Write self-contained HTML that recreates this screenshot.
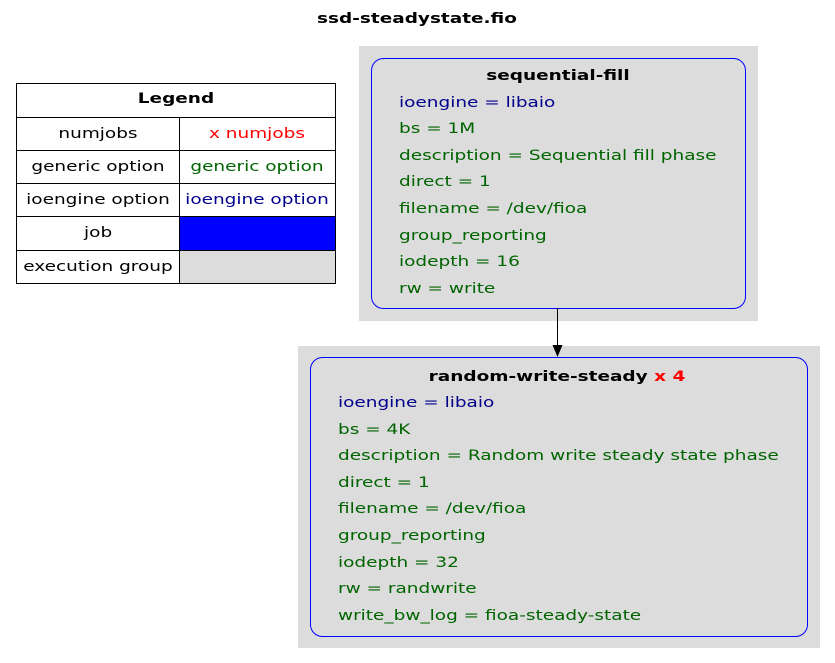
<!DOCTYPE html>
<html><head><meta charset="utf-8"><style>
html,body{margin:0;padding:0;background:#fff;}
svg{display:block;}
text{font-family:"DejaVu Sans","Liberation Sans",sans-serif;font-size:14px;transform-box:fill-box;transform:scaleX(1.32);transform-origin:left center;}
text.c{transform-origin:center center;}
.b{font-weight:bold;}
.n{fill:#00008b;}
.g{fill:#006400;}
</style></head><body>
<svg width="835" height="663" viewBox="0 0 835 663" xmlns="http://www.w3.org/2000/svg">
<text x="417" y="23" text-anchor="middle" class="b c">ssd-steadystate.fio</text>
<!-- legend -->
<g stroke="#000" stroke-width="1" fill="none">
<rect x="16.5" y="83.5" width="319" height="200" fill="#fff"/>
<line x1="16.5" y1="117.5" x2="335.5" y2="117.5"/>
<line x1="16.5" y1="150.5" x2="335.5" y2="150.5"/>
<line x1="16.5" y1="183.5" x2="335.5" y2="183.5"/>
<line x1="16.5" y1="216.5" x2="335.5" y2="216.5"/>
<line x1="16.5" y1="250.5" x2="335.5" y2="250.5"/>
<line x1="179.5" y1="117.5" x2="179.5" y2="283.5"/>
</g>
<rect x="180" y="217" width="155" height="33" fill="#0000ff"/>
<rect x="180" y="251" width="155" height="32" fill="#dcdcdc"/>
<text x="176" y="103" text-anchor="middle" class="b c">Legend</text>
<text x="98" y="138" text-anchor="middle" class="c">numjobs</text>
<text x="257" y="138" text-anchor="middle" class="c" fill="#ff0000">x numjobs</text>
<text x="98" y="171" text-anchor="middle" class="c">generic option</text>
<text x="257" y="171" text-anchor="middle" class="g c">generic option</text>
<text x="98" y="204" text-anchor="middle" class="c">ioengine option</text>
<text x="257" y="204" text-anchor="middle" class="n c">ioengine option</text>
<text x="98" y="237" text-anchor="middle" class="c">job</text>
<text x="98" y="271" text-anchor="middle" class="c">execution group</text>
<!-- cluster 1 -->
<rect x="359" y="46" width="399" height="275" fill="#dcdcdc"/>
<rect x="371.5" y="58.5" width="374" height="250" rx="12" fill="#dcdcdc" stroke="#0000ff"/>
<text x="558" y="80" text-anchor="middle" class="b c">sequential-fill</text>
<text x="399" y="107" class="n">ioengine = libaio</text>
<text x="399" y="133" class="g">bs = 1M</text>
<text x="399" y="160" class="g">description = Sequential fill phase</text>
<text x="399" y="186" class="g">direct = 1</text>
<text x="399" y="213" class="g">filename = /dev/fioa</text>
<text x="399" y="240" class="g">group_reporting</text>
<text x="399" y="266" class="g">iodepth = 16</text>
<text x="399" y="293" class="g">rw = write</text>
<!-- cluster 2 -->
<rect x="298" y="346" width="522" height="302" fill="#dcdcdc"/>
<rect x="310.5" y="357.5" width="497" height="279" rx="12" fill="#dcdcdc" stroke="#0000ff"/>
<text x="557" y="381" text-anchor="middle" class="b c">random-write-steady <tspan fill="#ff0000">x 4</tspan></text>
<text x="338" y="407" class="n">ioengine = libaio</text>
<text x="338" y="434" class="g">bs = 4K</text>
<text x="338" y="460" class="g">description = Random write steady state phase</text>
<text x="338" y="487" class="g">direct = 1</text>
<text x="338" y="513" class="g">filename = /dev/fioa</text>
<text x="338" y="540" class="g">group_reporting</text>
<text x="338" y="567" class="g">iodepth = 32</text>
<text x="338" y="593" class="g">rw = randwrite</text>
<text x="338" y="620" class="g">write_bw_log = fioa-steady-state</text>
<!-- arrow -->
<line x1="557.5" y1="308" x2="557.5" y2="346" stroke="#000"/>
<polygon points="552.5,345 562.5,345 557.5,357" fill="#000"/>
</svg>
</body></html>
